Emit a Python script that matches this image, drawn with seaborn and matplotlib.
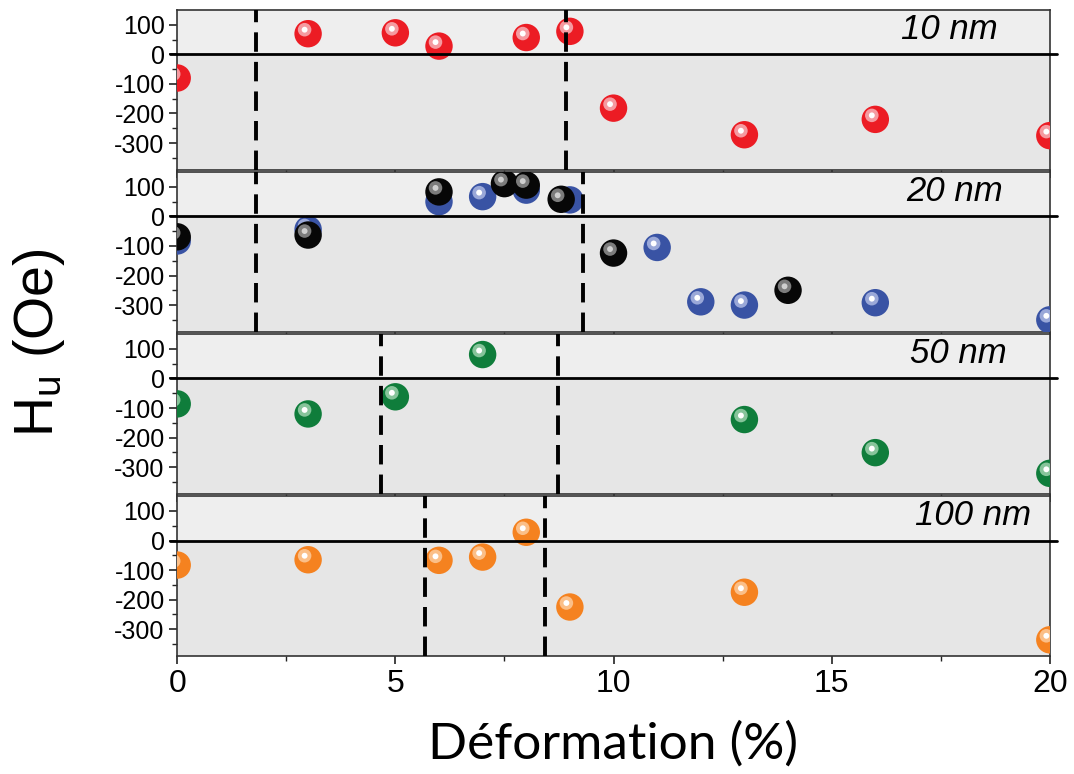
import numpy as np
import pandas as pd
import matplotlib
matplotlib.use("Agg")
import matplotlib.pyplot as plt
import matplotlib.transforms as mtransforms
import seaborn as sns

# ---------------- data ----------------
strain_10 = [0, 3, 5, 6, 8, 9, 10, 13, 16, 20]
hu_10 = [-80, 70, 73, 28, 57, 78, -182, -272, -220, -275]

strain_20_blue = [0, 3, 6, 7, 8, 9, 11, 12, 13, 16, 20]
hu_20_blue = [-83, -44, 50, 67, 89, 56, -105, -289, -300, -292, -350]
strain_20_black = [0, 3, 6, 7.5, 8, 8.8, 10, 14]
hu_20_black = [-69, -63, 83, 111, 106, 58, -124, -250]

strain_50 = [0, 3, 5, 7, 13, 16, 20]
hu_50 = [-86, -120, -62, 81, -139, -251, -321]

strain_100 = [0, 3, 6, 7, 8, 9, 13, 20]
hu_100 = [-83, -65, -67, -56, 28, -225, -175, -336]

panel_labels = ["10 nm", "20 nm", "50 nm", "100 nm"]
dashed_x = [[1.8, 8.9], [1.8, 9.31], [4.67, 8.72], [5.68, 8.43]]

x_ticks = [0, 5, 10, 15, 20]
y_ticks = [-300, -200, -100, 0, 100]

# ---------------- style ----------------
sns.set_style("ticks")
plt.rcParams["font.family"] = ["Liberation Sans", "DejaVu Sans"]
plt.rcParams["mathtext.fontset"] = "custom"
plt.rcParams["mathtext.rm"] = "Liberation Sans"
plt.rcParams["mathtext.it"] = "Liberation Sans:italic"
plt.rcParams["axes.unicode_minus"] = False
plt.rcParams["text.color"] = "black"
plt.rcParams["axes.labelcolor"] = "black"
plt.rcParams["xtick.labelcolor"] = "black"
plt.rcParams["ytick.labelcolor"] = "black"

series = [
    [(strain_10, hu_10, "#ec1c24", "#f59aa0", "#ffffff")],
    [(strain_20_blue, hu_20_blue, "#3953a4", "#9aa8d8", "#ffffff"),
     (strain_20_black, hu_20_black, "#070707", "#7c7c7c", "#cfcfcf")],
    [(strain_50, hu_50, "#0f7d3b", "#86c49a", "#ffffff")],
    [(strain_100, hu_100, "#f58220", "#fbbf88", "#ffffff")],
]

fig, axes = plt.subplots(4, 1, figsize=(10.74, 7.74), dpi=100, sharex=True,
                         gridspec_kw=dict(hspace=0.012))
fig.subplots_adjust(left=0.165, right=0.9775, top=0.987, bottom=0.152)

upper_bg = "#eeeeee"
lower_bg = "#e6e6e6"

hl_offset = mtransforms.ScaledTranslation(-3.5 / 100, 4.0 / 100, fig.dpi_scale_trans)

for i, ax in enumerate(axes):
    ax.set_xlim(0, 20)
    ax.set_ylim(-392, 150)
    ax.set_facecolor(lower_bg)
    ax.axhspan(0, 150, color=upper_bg, zorder=0, lw=0)
    ax.axhspan(-392, 0, color=lower_bg, zorder=0, lw=0)

    for (xs, ys, c, hc, dc) in series[i]:
        df = pd.DataFrame({"x": xs, "y": ys})
        sns.scatterplot(data=df, x="x", y="y", ax=ax, color=c, s=390,
                        linewidth=0, edgecolor="none", legend=False, zorder=3)
        sns.scatterplot(data=df, x="x", y="y", ax=ax, color=hc, s=95,
                        linewidth=0, edgecolor="none", legend=False, zorder=3,
                        transform=ax.transData + hl_offset)
        sns.scatterplot(data=df, x="x", y="y", ax=ax, color=dc, s=18,
                        linewidth=0, edgecolor="none", legend=False, zorder=3,
                        transform=ax.transData + hl_offset)

    ax.axhline(0, xmin=-0.008, xmax=1.008, color="black", lw=2.0, zorder=5,
               clip_on=False)
    for xv in dashed_x[i]:
        ax.axvline(xv, color="black", lw=2.8, ls=(0, (5.0, 2.6)), zorder=5)

    ax.text(16.6 + 0.1 * i, 85, panel_labels[i], fontsize=25, style="italic",
            ha="left", va="center", zorder=6, color="black")

    ax.set_yticks(y_ticks)
    ax.set_yticks(np.arange(-350, 150, 50), minor=True)
    ax.set_xticks(x_ticks)
    ax.set_xticks(np.arange(0, 20.1, 2.5), minor=True)
    ax.tick_params(axis="y", which="major", direction="out", length=6, width=1.2,
                   labelsize=18, pad=3, colors="#222222", labelcolor="black")
    ax.tick_params(axis="y", which="minor", direction="out", length=3.5, width=1.0,
                   colors="#222222")
    ax.tick_params(axis="x", which="major", direction="out", length=6, width=1.2,
                   labelsize=23, pad=3, colors="#222222", labelcolor="black")
    ax.tick_params(axis="x", which="minor", direction="out", length=3.5, width=1.0,
                   colors="#222222")
    for sp in ax.spines.values():
        sp.set_visible(True)
        sp.set_color("#333333")
        sp.set_linewidth(1.2)
    ax.set_xlabel("")
    ax.set_ylabel("")

axes[-1].set_xlabel("Déformation (%)", fontsize=37, family=["Lato", "DejaVu Sans"],
                    labelpad=16, color="black")

fig.text(0.036, 0.557, "$\\mathregular{H_u}$ (Oe)", rotation=90, fontsize=40,
         ha="center", va="center", color="black")

fig.savefig("out.png", dpi=100)
